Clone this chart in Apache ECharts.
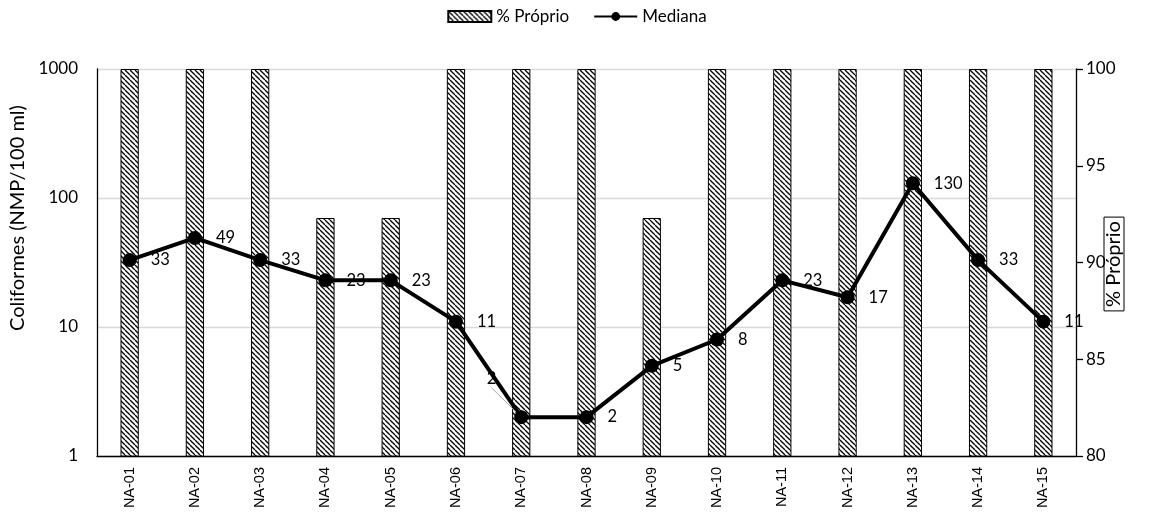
<!DOCTYPE html>
<html>
<head>
<meta charset="utf-8">
<script src="https://cdn.jsdelivr.net/npm/echarts@6/dist/echarts.min.js"></script>
<style>
  html, body { margin: 0; padding: 0; background: #fff; }
  #chart { width: 1154px; height: 525px; }
</style>
</head>
<body>
<div id="chart"></div>
<script>
// Sampling points
const categories = ['NA-01', 'NA-02', 'NA-03', 'NA-04', 'NA-05', 'NA-06', 'NA-07', 'NA-08',
                    'NA-09', 'NA-10', 'NA-11', 'NA-12', 'NA-13', 'NA-14', 'NA-15'];
// Share of samples within standard (%)
const proprio = [100, 100, 100, 92.3, 92.3, 100, 100, 100, 92.3, 100, 100, 100, 100, 100, 100];
// Median coliform count (NMP/100 ml)
const mediana = [33, 49, 33, 23, 23, 11, 2, 2, 5, 8, 23, 17, 130, 33, 11];
// Where each median label sits relative to its point
const labelPos = ['right', 'right', 'right', 'right', 'right', 'right', 'left', 'right',
                  'right', 'right', 'right', 'right', 'right', 'right', 'right'];
const leftTicks = [1, 10, 100, 1000];

// Diagonal hatch fill for the bars
function hatch() {
  const s = 5;
  const c = document.createElement('canvas');
  c.width = s; c.height = s;
  const g = c.getContext('2d');
  g.fillStyle = '#fff';
  g.fillRect(0, 0, s, s);
  g.strokeStyle = '#000';
  g.lineWidth = 1.3;
  for (let k = -1; k <= 1; k++) {
    g.beginPath();
    g.moveTo(k * s, 0);
    g.lineTo(k * s + s, s);
    g.stroke();
  }
  return { image: c, repeat: 'repeat' };
}

const FONT = 'Lato, "Open Sans", sans-serif';
const chart = echarts.init(document.getElementById('chart'));

const lineData = mediana.map((v, i) => ({
  value: v,
  label: { position: labelPos[i], distance: 14 },
  labelLine: { show: labelPos[i] === 'left' }
}));

chart.setOption({
  animation: false,
  legend: {
    top: 3,
    left: 'center',
    itemGap: 24,
    itemWidth: 43,
    itemHeight: 11,
    textStyle: { fontFamily: FONT, fontSize: 17, color: '#000' },
    data: [
      { name: '% Próprio', icon: 'rect' },
      { name: 'Mediana' }
    ]
  },
  grid: { left: 97, right: 78, top: 69, bottom: 69, containLabel: false },
  graphic: [
    {
      type: 'text',
      x: 18, y: 218,
      rotation: Math.PI / 2,
      style: {
        text: 'Coliformes (NMP/100 ml)',
        font: '20px ' + FONT,
        fill: '#000',
        align: 'center',
        verticalAlign: 'middle'
      }
    },
    {
      type: 'text',
      x: 1114, y: 264,
      rotation: Math.PI / 2,
      style: {
        text: '% Próprio',
        font: '20px ' + FONT,
        fill: '#000',
        align: 'center',
        verticalAlign: 'middle',
        borderColor: '#000',
        borderWidth: 1,
        padding: [0, 4, 0, 4]
      }
    }
  ],
  xAxis: {
    type: 'category',
    data: categories,
    axisLine: { lineStyle: { color: '#000', width: 1.3 } },
    axisTick: { show: false },
    axisLabel: {
      rotate: 90,
      margin: 11,
      fontFamily: '"Liberation Sans", Arial, sans-serif',
      fontSize: 14.5,
      color: '#000'
    }
  },
  yAxis: [
    {
      type: 'log',
      logBase: 10,
      min: 1,
      max: 1000,
      position: 'left',
      axisLine: { show: true, lineStyle: { color: '#000', width: 1.3 } },
      axisTick: { show: false },
      axisLabel: {
        fontFamily: FONT, fontSize: 17, color: '#000', margin: 19,
        formatter: v => (leftTicks.indexOf(Math.round(v)) >= 0 ? String(Math.round(v)) : '')
      },
      splitLine: { show: true, lineStyle: { color: '#d9d9d9', width: 1.3 } }
    },
    {
      type: 'value',
      min: 80,
      max: 100,
      interval: 5,
      position: 'right',
      axisLine: { show: true, lineStyle: { color: '#000', width: 1.3 } },
      axisTick: { show: true, inside: false, length: 7, lineStyle: { color: '#000', width: 1.3 } },
      axisLabel: { fontFamily: FONT, fontSize: 17, color: '#000', margin: 10 },
      splitLine: { show: false }
    }
  ],
  series: [
    {
      name: '% Próprio',
      type: 'bar',
      yAxisIndex: 1,
      data: proprio,
      barWidth: '28%',
      itemStyle: { color: hatch(), borderColor: '#000', borderWidth: 1 },
      z: 1
    },
    {
      name: 'Mediana',
      type: 'line',
      yAxisIndex: 0,
      data: lineData,
      symbol: 'circle',
      symbolSize: 14,
      lineStyle: { color: '#000', width: 4 },
      itemStyle: { color: '#000' },
      label: {
        show: true,
        fontFamily: FONT,
        fontSize: 16.5,
        color: '#000'
      },
      labelLine: { lineStyle: { color: '#a6a6a6', width: 1 } },
      labelLayout: p => (p.dataIndex === 6 ? { dx: -4, dy: -38 } : {}),
      z: 3
    }
  ]
});
</script>
</body>
</html>
